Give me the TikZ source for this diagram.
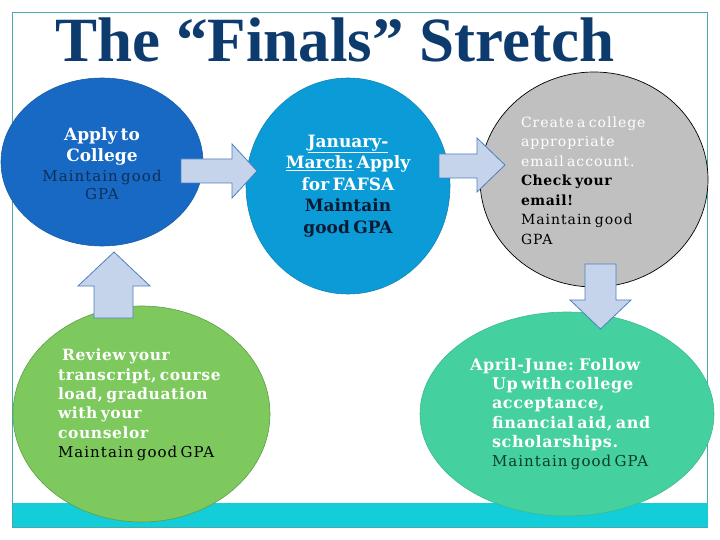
\documentclass[tikz,border=0pt]{standalone}
\usepackage{fontspec}
\setmainfont{DejaVu Serif}
\newfontfamily\titlefont{Liberation Serif}
\newfontfamily\spacedfont[LetterSpace=7]{DejaVu Serif}
\newfontfamily\boldspaced[LetterSpace=4]{DejaVu Serif}
\definecolor{titlecol}{HTML}{0D3B6E}
\definecolor{bluefill}{HTML}{1769C4}
\definecolor{blueline}{HTML}{1B5DA6}
\definecolor{cyanfill}{HTML}{0B9BD7}
\definecolor{cyanline}{HTML}{1583B8}
\definecolor{grayfill}{HTML}{C0C0C0}
\definecolor{greenfill}{HTML}{7DC95E}
\definecolor{greenline}{HTML}{5F9E48}
\definecolor{tealfill}{HTML}{45D0A0}
\definecolor{tealline}{HTML}{3DBB90}
\definecolor{barfill}{HTML}{13CDD9}
\definecolor{framecol}{HTML}{4AA9AE}
\definecolor{arrowfill}{HTML}{C5D3EB}
\definecolor{arrowline}{HTML}{4E7FBF}
\definecolor{navytext}{HTML}{0E2F57}
\definecolor{darktext}{HTML}{0A1A33}
\definecolor{tealtext}{HTML}{0B3B2E}
\tikzset{
  blockarrow/.style={fill=arrowfill, draw=arrowline, line width=0.8pt, line join=miter},
  txt/.style={inner sep=0pt, outer sep=0pt},
}
\begin{document}
\begin{tikzpicture}[x=1pt, y=-1pt]
\useasboundingbox (0,0) rectangle (720,540);
% frame and bar
\draw[framecol, line width=1pt] (12.7,12.7) rectangle (707.5,527.5);
\fill[barfill] (12.7,503) rectangle (707.5,527.5);
\draw[framecol, line width=1pt] (12.7,527.5) -- (707.5,527.5);
% title
\node[txt, anchor=base, font=\titlefont\bfseries\fontsize{63}{63}\selectfont, text=titlecol] (title) at (335,62) {The “Finals” Stretch};
% ellipses
\fill[bluefill, draw=blueline, line width=0.6pt] (102,162) ellipse [x radius=101, y radius=84];
\fill[cyanfill, draw=cyanline, line width=0.6pt] (348,186) ellipse [x radius=102, y radius=108];
\fill[grayfill, draw=black, line width=0.7pt] (594,179.5) ellipse [x radius=114, y radius=107.5];
\fill[greenfill, draw=greenline, line width=0.6pt] (141.5,414) ellipse [x radius=128.5, y radius=108];
\fill[tealfill, draw=tealline, line width=0.6pt] (567,414) ellipse [x radius=147, y radius=102];
% block arrows
\draw[blockarrow] (181,159) -- (232,159) -- (232,144) -- (257,171) -- (232,198) -- (232,183) -- (181,183) -- cycle;
\draw[blockarrow] (439,154) -- (477,154) -- (477,138) -- (505,165) -- (477,192) -- (477,178) -- (439,178) -- cycle;
\draw[blockarrow] (585,264) -- (616,264) -- (616,300) -- (631,300) -- (600.5,329) -- (570,300) -- (585,300) -- cycle;
\draw[blockarrow] (94,318) -- (94,286) -- (78,286) -- (114,252) -- (150,286) -- (133,286) -- (133,318) -- cycle;
% texts
\node[txt, text width=180pt, align=center] (t1) at (102,164) {%
  \fontsize{17}{21}\selectfont\bfseries\color{white}Apply to\\College\par
  \vspace{1pt}\spacedfont\mdseries\fontsize{15}{18.5}\selectfont\color{navytext}Maintain good\\GPA\par};
\node[txt, text width=180pt, align=center] (t2) at (348,186) {%
  \fontsize{17}{21.5}\selectfont\bfseries\color{white}\underline{January-}\\\underline{March:} Apply\\for FAFSA\\\color{darktext}Maintain\\good GPA\par};
\node[txt, text width=180pt, align=left, anchor=west] (t3) at (521,180.5) {%
  \spacedfont\mdseries\fontsize{14}{19.5}\selectfont\color{white}Create a college\\appropriate\\email account.\\
  \boldspaced\bfseries\color{black}Check your\\email!\\\spacedfont\mdseries Maintain good\\GPA\par};
\node[txt, text width=200pt, align=left, anchor=west] (t4) at (58,405) {%
  \boldspaced\fontsize{15.5}{19.3}\selectfont\bfseries\color{white}\hspace*{4pt}Review your\\transcript, course\\load, graduation\\with your\\counselor\\
  \spacedfont\mdseries\fontsize{15}{19.3}\selectfont\color{black}Maintain good GPA\par};
\node[txt, text width=200pt, align=left, anchor=west] (t5) at (492,414) {%
  \boldspaced\fontsize{16}{19.3}\selectfont\bfseries\color{white}\hspace*{-22pt}April-June: Follow\\Up with college\\acceptance,\\financial aid, and\\scholarships.\\
  \spacedfont\mdseries\fontsize{15}{19.3}\selectfont\color{tealtext}Maintain good GPA\par};
\end{tikzpicture}
\end{document}
